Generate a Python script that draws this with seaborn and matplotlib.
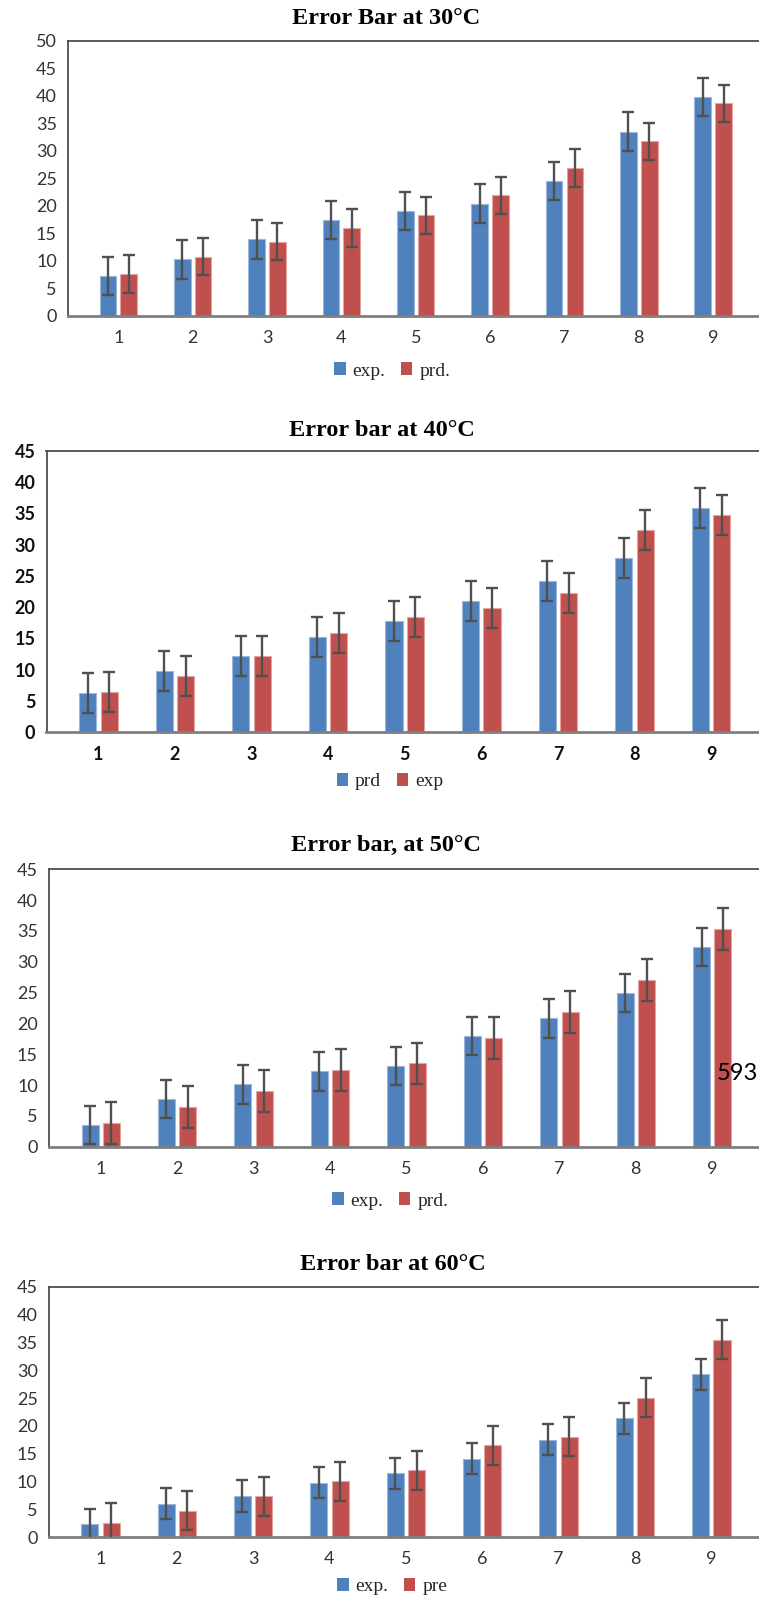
import numpy as np
import pandas as pd
import matplotlib
matplotlib.use("Agg")
import matplotlib.pyplot as plt
from matplotlib.font_manager import FontProperties
import seaborn as sns

W, H, DPI = 759, 1599, 100

categories = ["1", "2", "3", "4", "5", "6", "7", "8", "9"]

# ---- Panel 1: 30 °C ----
p30_title = "Error Bar at 30°C"
p30_labels = ["exp.", "prd."]
p30_blue = [7.3, 10.3, 13.9, 17.4, 19.1, 20.4, 24.5, 33.5, 39.8]
p30_red = [7.6, 10.8, 13.5, 16.0, 18.3, 21.9, 26.9, 31.7, 38.6]
p30_blue_err = [3.5, 3.5, 3.5, 3.5, 3.5, 3.5, 3.5, 3.5, 3.5]
p30_red_err = [3.4, 3.4, 3.4, 3.4, 3.4, 3.4, 3.4, 3.4, 3.4]
p30_yticks = [0, 5, 10, 15, 20, 25, 30, 35, 40, 45, 50]

# ---- Panel 2: 40 °C ----
p40_title = "Error bar at 40°C"
p40_labels = ["prd", "exp"]
p40_blue = [6.2, 9.7, 12.2, 15.2, 17.7, 21.0, 24.2, 27.8, 35.9]
p40_red = [6.4, 8.9, 12.2, 15.8, 18.4, 19.8, 22.2, 32.3, 34.7]
p40_blue_err = [3.2, 3.2, 3.2, 3.2, 3.2, 3.2, 3.2, 3.2, 3.2]
p40_red_err = [3.2, 3.2, 3.2, 3.2, 3.2, 3.2, 3.2, 3.2, 3.2]
p40_yticks = [0, 5, 10, 15, 20, 25, 30, 35, 40, 45]

# ---- Panel 3: 50 °C ----
p50_title = "Error bar, at 50°C"
p50_labels = ["exp.", "prd."]
p50_blue = [3.5, 7.7, 10.1, 12.2, 13.1, 17.9, 20.8, 24.9, 32.4]
p50_red = [3.9, 6.5, 9.0, 12.5, 13.5, 17.7, 21.8, 27.0, 35.3]
p50_blue_err = [3.1, 3.1, 3.1, 3.1, 3.1, 3.1, 3.1, 3.1, 3.1]
p50_red_err = [3.4, 3.4, 3.4, 3.4, 3.4, 3.4, 3.4, 3.4, 3.4]
p50_yticks = [0, 5, 10, 15, 20, 25, 30, 35, 40, 45]
p50_note = "593"

# ---- Panel 4: 60 °C ----
p60_title = "Error bar at 60°C"
p60_labels = ["exp.", "pre"]
p60_blue = [2.3, 6.0, 7.4, 9.8, 11.5, 14.1, 17.5, 21.4, 29.3]
p60_red = [2.6, 4.8, 7.4, 10.1, 12.0, 16.5, 18.1, 25.1, 35.5]
p60_blue_err = [2.8, 2.8, 2.8, 2.8, 2.8, 2.8, 2.8, 2.8, 2.8]
p60_red_err = [3.5, 3.5, 3.5, 3.5, 3.5, 3.5, 3.5, 3.5, 3.5]
p60_yticks = [0, 5, 10, 15, 20, 25, 30, 35, 40, 45]

BLUE = "#4F81BD"
RED = "#C0504D"
BLUE_EDGE = "#9DB7DB"
RED_EDGE = "#E3A5A3"
ERR = "#505050"

sns.set_theme(style="white")
plt.rcParams["font.family"] = ["Lato", "DejaVu Sans"]

fig = plt.figure(figsize=(W / DPI, H / DPI), dpi=DPI)
fig.patch.set_facecolor("white")


def panel(box, title, title_xy, labels, blue, red, berr, rerr, yticks,
          legend_xy, bold_ticks=False):
    l, r, t, b = box
    ax = fig.add_axes([l / W, 1 - b / H, (r - l) / W, (b - t) / H])
    df = pd.DataFrame({
        "cat": categories + categories,
        "val": blue + red,
        "series": [labels[0]] * len(blue) + [labels[1]] * len(red),
    })
    sns.barplot(data=df, x="cat", y="val", hue="series", hue_order=labels,
                order=categories, palette=[BLUE, RED], width=0.56, gap=0.2,
                errorbar=None, saturation=1, ax=ax, legend=True)
    edges = [BLUE_EDGE, RED_EDGE]
    for cont, errs, ec in zip(ax.containers, [berr, rerr], edges):
        xs, ys = [], []
        for p in cont:
            p.set_edgecolor(ec)
            p.set_linewidth(0.8)
            xs.append(p.get_x() + p.get_width() / 2)
            ys.append(p.get_height())
        ax.errorbar(xs, ys, yerr=errs, fmt="none", ecolor=ERR,
                    elinewidth=1.7, capsize=4.2, capthick=1.7, zorder=5)
    ax.set_ylim(yticks[0], yticks[-1])
    ax.set_yticks(yticks)
    ax.set_xlabel("")
    ax.set_ylabel("")
    weight = "bold" if bold_ticks else "normal"
    tcol = "#111111" if bold_ticks else "#333333"
    ax.tick_params(axis="both", length=0, labelsize=13, colors=tcol)
    ax.tick_params(axis="y", pad=8)
    ax.tick_params(axis="x", pad=10)
    for lab in ax.get_xticklabels() + ax.get_yticklabels():
        lab.set_fontweight(weight)
        lab.set_family(["Lato", "DejaVu Sans"])
    for name, sp in ax.spines.items():
        sp.set_visible(True)
        sp.set_color("#4D4D4D")
        sp.set_linewidth(1.3)
    ax.spines["bottom"].set_color("#7F7F7F")
    ax.spines["bottom"].set_linewidth(2.0)
    ax.grid(False)

    old = ax.get_legend()
    handles = list(old.legend_handles)
    names = [tx.get_text() for tx in old.get_texts()]
    old.remove()
    leg = ax.legend(handles, names, loc="center",
                    bbox_to_anchor=(legend_xy[0] / W, 1 - legend_xy[1] / H),
                    bbox_transform=fig.transFigure, ncol=2, frameon=False,
                    prop=FontProperties(family="Liberation Serif", size=14),
                    handlelength=0.6, handleheight=0.6, handletextpad=0.35,
                    columnspacing=0.8, borderpad=0, borderaxespad=0)
    for hp in leg.legend_handles:
        hp.set_edgecolor("none")
    fig.text(title_xy[0] / W, 1 - title_xy[1] / H, title, ha="center",
             va="center", family="Liberation Serif", fontweight="bold",
             fontsize=17.5, color="#000000")
    return ax


panel((68, 763.5, 40.7, 316), p30_title, (386, 18.5), p30_labels,
      p30_blue, p30_red, p30_blue_err, p30_red_err, p30_yticks, (392, 371))
panel((46.5, 763, 451, 732), p40_title, (382, 430.7), p40_labels,
      p40_blue, p40_red, p40_blue_err, p40_red_err, p40_yticks, (390, 781.7),
      bold_ticks=True)
panel((49, 764, 869.3, 1146.7), p50_title, (386, 845), p50_labels,
      p50_blue, p50_red, p50_blue_err, p50_red_err, p50_yticks, (390, 1201))
panel((48.7, 763, 1286.7, 1537.3), p60_title, (393, 1265), p60_labels,
      p60_blue, p60_red, p60_blue_err, p60_red_err, p60_yticks, (392, 1586.7))

fig.text(717 / W, 1 - 1074 / H, p50_note, ha="left", va="center",
         family=["Lato", "DejaVu Sans"], fontsize=17, color="#000000", zorder=10)

fig.savefig("out.png", dpi=DPI, facecolor="white")
